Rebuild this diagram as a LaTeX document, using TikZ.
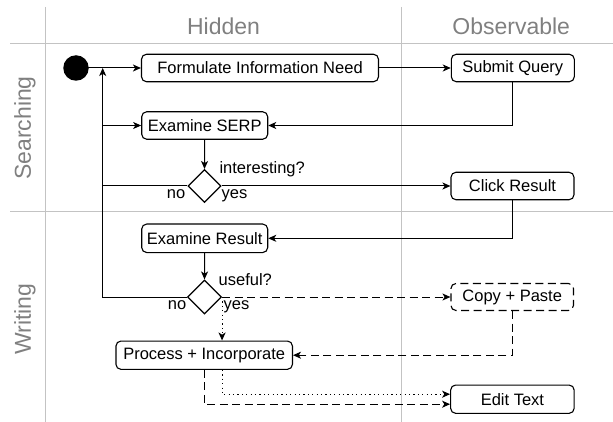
\documentclass[tikz,border=0pt]{standalone}
\usepackage{fontspec}
\setmainfont{Liberation Sans}
\usetikzlibrary{shapes.geometric,arrows.meta,calc}
\definecolor{hdrgray}{RGB}{128,128,128}
\definecolor{gridgray}{RGB}{195,195,195}
\tikzset{
  actbox/.style={draw, line width=1.1pt, rounded corners=5pt, inner sep=0pt,
    minimum height=27.5pt, font=\fontsize{16.5}{18}\selectfont, align=center},
  decis/.style={draw, line width=1.1pt, diamond, aspect=1, inner sep=0pt,
    minimum width=33pt, minimum height=33pt},
  lbl/.style={inner sep=0pt, font=\fontsize{16.5}{18}\selectfont},
  hdr/.style={inner sep=0pt, text=hdrgray, font=\fontsize{23}{26}\selectfont},
  gridln/.style={draw=gridgray, line width=1pt},
  arr/.style={line width=1pt, -{Stealth[length=8pt,width=7pt,inset=2.2pt]}},
  dasharr/.style={arr, dash pattern=on 8pt off 4.5pt},
  dotarr/.style={arr, dash pattern=on 1.2pt off 3.2pt},
}
\begin{document}
\begin{tikzpicture}[x=1pt,y=-1pt]
\useasboundingbox (0,0) rectangle (613,422);
% swimlane grid
\draw[gridln] (45.5,7) -- (45.5,422);
\draw[gridln] (401.7,7) -- (401.7,422);
\draw[gridln] (10,44) -- (613,44);
\draw[gridln] (10,211.7) -- (613,211.7);
% headers
\node[hdr] (hhid) at (223.5,26.7) {Hidden};
\node[hdr] (hobs) at (511.2,26.7) {Observable};
\node[hdr, rotate=90] (hsea) at (25,128) {Searching};
\node[hdr, rotate=90] (hwri) at (25,319) {Writing};
% nodes
\node[circle, fill=black, inner sep=0pt, minimum size=25.5pt] (start) at (76,68) {};
\node[actbox, minimum width=237pt] (form) at (260,68) {Formulate Information Need};
\node[actbox, minimum width=123pt] (submit) at (512.8,68) {Submit Query};
\node[actbox, minimum width=126pt] (serp) at (204.7,125.5) {Examine SERP};
\node[decis] (inter) at (204.5,186) {};
\node[actbox, minimum width=123pt] (click) at (512.5,186) {Click Result};
\node[actbox, minimum width=126pt, minimum height=28.5pt] (exres) at (204.7,238.3) {Examine Result};
\node[decis, minimum width=34pt, minimum height=34pt] (useful) at (204.5,297) {};
\node[actbox, minimum width=176.5pt, minimum height=28.3pt] (proc) at (204.2,355.2) {Process + Incorporate};
\node[actbox, dash pattern=on 8pt off 4.5pt, minimum width=122.5pt, minimum height=27pt] (copy) at (512.2,297) {Copy + Paste};
\node[actbox, minimum width=123.5pt, minimum height=28.3pt] (edit) at (512.4,399.2) {Edit Text};
% labels
\node[lbl, anchor=base west] (lint) at (219.3,174) {interesting?};
\node[lbl, anchor=base east] (lno1) at (185.5,198.5) {no};
\node[lbl, anchor=base west] (lyes1) at (221.5,198.5) {yes};
\node[lbl, anchor=base west] (luse) at (218.5,285) {useful?};
\node[lbl, anchor=base east] (lno2) at (186.5,309.5) {no};
\node[lbl, anchor=base west] (lyes2) at (223.5,309.5) {yes};
% helper coordinates
\coordinate (lx) at (102.7,0);
\coordinate (join) at (102.7,68);
% connectors
\draw[arr] (start.center) -- (form.west);
\draw[arr] (form.east) -- (submit.west);
\draw[arr] (submit.south) |- (serp.east);
\draw[arr] (serp.south) -- (inter.north);
\draw[arr] (inter.east) -- (click.west);
\draw[arr] (inter.west) -- (inter.west -| lx) |- (serp.west);
\draw[arr] (useful.west) -- (useful.west -| lx) -- (join);
\draw[arr] (click.south) |- (exres.east);
\draw[arr] (exres.south) -- (useful.north);
\draw[dasharr] (useful.east) -- (copy.west);
\draw[dotarr] (useful.east) -- (useful.east |- proc.north);
\draw[dasharr] (copy.south) |- (proc.east);
\draw[dotarr] (proc.south -| useful.east) |- ([yshift=5pt]edit.west);
\draw[dasharr] (proc.south) |- ([yshift=-5pt]edit.west);
\end{tikzpicture}
\end{document}
